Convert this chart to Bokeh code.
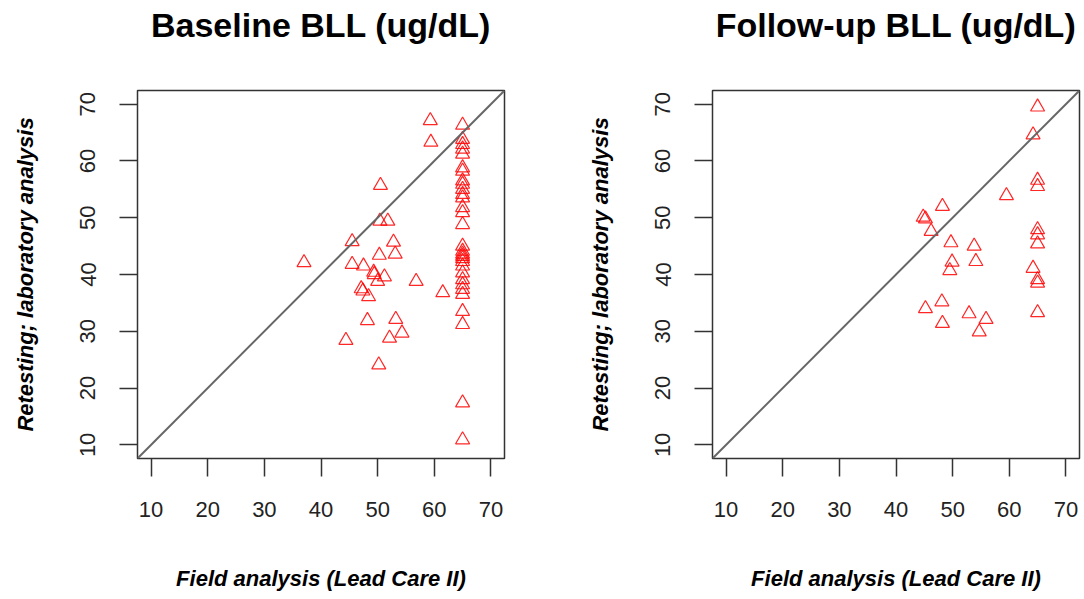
from bokeh.plotting import figure
from bokeh.layouts import row
from bokeh.models import Range1d, FixedTicker, Slope, Title
from bokeh.embed import file_html
from bokeh.resources import INLINE

# ---- data ----
ticks = [10, 20, 30, 40, 50, 60, 70]
titles = ["Baseline BLL (ug/dL)", "Follow-up BLL (ug/dL)"]
x_label = "Field analysis (Lead Care II)"
y_label = "Retesting; laboratory analysis"

base_x = [37.0, 45.5, 50.5, 50.4, 51.8, 52.8, 53.1, 50.3, 45.5, 47.5, 49.3, 49.4,
          51.2, 50.0, 47.1, 47.4, 48.4, 56.8, 48.2, 53.2, 54.3, 52.1, 44.4, 50.2,
          59.3, 59.4, 61.5,
          65.0, 65.0, 65.0, 65.0, 65.0, 65.0, 65.0, 65.0, 65.0, 65.0, 65.0, 65.0,
          65.0, 65.0, 65.0, 65.0, 65.0, 65.0, 65.0, 65.0, 65.0, 65.0, 65.0, 65.0,
          65.0, 65.0, 65.0, 65.0, 65.0, 65.0, 65.0]
base_y = [42.1, 45.8, 55.7, 49.4, 49.4, 45.7, 43.6, 43.4, 41.8, 41.5, 40.4, 40.0,
          39.6, 38.8, 37.5, 37.1, 36.1, 38.8, 31.9, 32.1, 29.7, 28.8, 28.4, 24.1,
          67.1, 63.3, 36.8,
          66.3, 63.8, 62.9, 62.1, 61.2, 58.8, 58.2, 56.5, 55.9, 55.0, 54.1, 53.5,
          51.8, 50.9, 48.8, 45.0, 44.1, 43.6, 43.2, 42.8, 42.3, 41.5, 40.3, 39.1,
          38.2, 37.4, 36.5, 33.5, 31.2, 17.4, 10.9]

follow_x = [65.0, 64.2, 65.0, 65.0, 59.5, 48.2, 44.8, 45.2, 46.2, 65.0, 65.0, 65.0,
            49.7, 53.8, 49.9, 54.1, 49.5, 64.2, 65.0, 65.0, 45.2, 48.1, 48.2, 52.9,
            55.9, 54.7, 65.0]
follow_y = [69.5, 64.6, 56.6, 55.5, 53.9, 52.0, 50.1, 49.8, 47.6, 47.9, 47.0, 45.4,
            45.6, 45.0, 42.2, 42.3, 40.7, 41.1, 39.1, 38.5, 34.0, 35.2, 31.4, 33.1,
            32.1, 29.9, 33.3]

FONT = "Liberation Sans"


def make_panel(title, xs, ys, border_left, frame_w, border_right):
    p = figure(output_backend="svg", toolbar_location=None,
               frame_width=frame_w, frame_height=368,
               min_border_left=border_left, min_border_right=border_right,
               min_border_top=90, min_border_bottom=140,
               x_range=Range1d(7.6, 72.4), y_range=Range1d(7.6, 72.4),
               title=title)
    p.title.align = "center"
    p.title.text_font = FONT
    p.title.text_font_size = "34px"
    p.title.text_font_style = "bold"
    p.title.text_color = "#000000"
    p.title.standoff = 0
    # blank spacer between the title and the plot box
    p.add_layout(Title(text=" ", text_font_size="10px", standoff=34), "above")
    p.grid.visible = False
    p.outline_line_color = "#333333"
    p.outline_line_width = 1.5
    p.background_fill_color = "white"
    p.border_fill_color = "white"

    for ax in (p.xaxis[0], p.yaxis[0]):
        ax.ticker = FixedTicker(ticks=ticks)
        ax.axis_line_color = None
        ax.major_tick_in = 0
        ax.major_tick_out = 18
        ax.major_tick_line_color = "#333333"
        ax.major_tick_line_width = 1.5
        ax.minor_tick_line_color = None
        ax.major_label_text_font = FONT
        ax.major_label_text_font_size = "22px"
        ax.major_label_text_color = "#222222"
        ax.axis_label_text_font = FONT
        ax.axis_label_text_font_size = "22px"
        ax.axis_label_text_font_style = "bold italic"
        ax.axis_label_text_color = "#000000"

    p.xaxis.axis_label = x_label
    p.xaxis.major_label_standoff = 25
    p.xaxis.axis_label_standoff = 46
    p.yaxis.axis_label = y_label
    p.yaxis.major_label_orientation = "vertical"
    p.yaxis.major_label_standoff = 24
    p.yaxis.axis_label_standoff = 40

    p.add_layout(Slope(gradient=1, y_intercept=0, line_color="#666666", line_width=2))
    p.scatter(xs, ys, marker="triangle", size=14, fill_color=None,
              line_color="#ff0000", line_width=1.2, line_alpha=0.85)
    return p


p1 = make_panel(titles[0], base_x, base_y, 137, 367, 38)
p2 = make_panel(titles[1], follow_x, follow_y, 170, 367, 3)
layout = row(p1, p2, spacing=0)

open("out.html", "w").write(file_html(layout, INLINE))
